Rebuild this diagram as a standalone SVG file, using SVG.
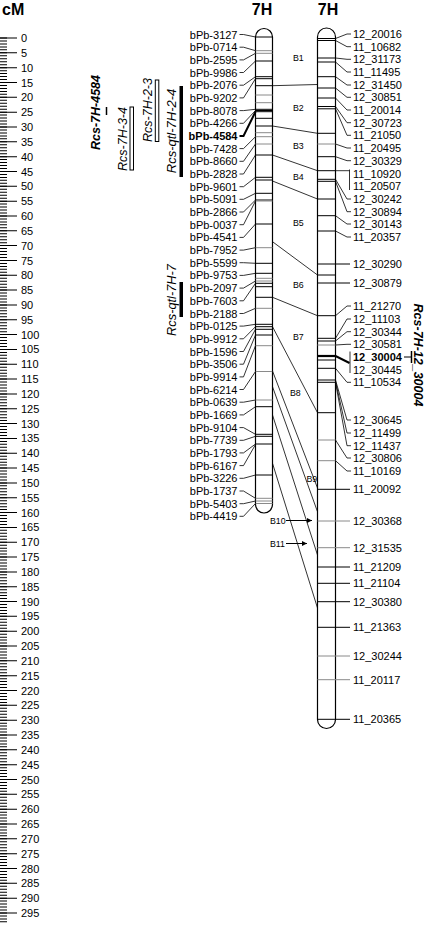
<svg xmlns="http://www.w3.org/2000/svg" width="425" height="926" viewBox="0 0 425 926">
<style>
text{font-family:"Liberation Sans",Arial,sans-serif;fill:#000}
.t{font-size:11px}
.l{text-anchor:end}
.ttl{font-size:16px;font-weight:bold}
.bl{font-size:8.8px}
.q{font-size:12.5px;font-style:italic;text-anchor:middle}
.qb{font-size:12.5px;font-style:italic;font-weight:bold;text-anchor:middle}
.chr{fill:#fff;stroke:#000;stroke-width:1.2}
.mk{stroke:#000;stroke-width:1;fill:none}
.gm{stroke:#8a8a8a;stroke-width:1;fill:none}
.ld{stroke:#000;stroke-width:0.8;fill:none}
.bd{stroke:#000;stroke-width:2;fill:none}
.cn{stroke:#000;stroke-width:0.8;fill:none}
</style>
<defs>
<marker id="ar" viewBox="0 0 6 6" refX="6" refY="3" markerWidth="5" markerHeight="5" orient="auto"><path d="M0,0L6,3L0,6z" fill="#000"/></marker>
</defs>
<rect width="425" height="926" fill="#fff"/>

<g id="ruler">
<text class="ttl" x="2" y="14.5">cM</text>
<line x1="3.5" y1="37.5" x2="3.5" y2="922.5" stroke="#000" stroke-width="7" stroke-dasharray="1 1.966"/>
<line x1="8.5" y1="37.5" x2="8.5" y2="922.5" stroke="#000" stroke-width="17" stroke-dasharray="1 13.83"/>
<g class="t">
<text x="21" y="42">0</text><text x="21" y="56.8">5</text><text x="21" y="71.7">10</text><text x="21" y="86.5">15</text><text x="21" y="101.3">20</text><text x="21" y="116.2">25</text><text x="21" y="131">30</text><text x="21" y="145.8">35</text><text x="21" y="160.6">40</text><text x="21" y="175.5">45</text><text x="21" y="190.3">50</text><text x="21" y="205.1">55</text><text x="21" y="220">60</text><text x="21" y="234.8">65</text><text x="21" y="249.6">70</text><text x="21" y="264.5">75</text><text x="21" y="279.3">80</text><text x="21" y="294.1">85</text><text x="21" y="308.9">90</text><text x="21" y="323.8">95</text><text x="21" y="338.6">100</text><text x="21" y="353.4">105</text><text x="21" y="368.3">110</text><text x="21" y="383.1">115</text><text x="21" y="397.9">120</text><text x="21" y="412.8">125</text><text x="21" y="427.6">130</text><text x="21" y="442.4">135</text><text x="21" y="457.2">140</text><text x="21" y="472.1">145</text><text x="21" y="486.9">150</text><text x="21" y="501.7">155</text><text x="21" y="516.6">160</text><text x="21" y="531.4">165</text><text x="21" y="546.2">170</text><text x="21" y="561.1">175</text><text x="21" y="575.9">180</text><text x="21" y="590.7">185</text><text x="21" y="605.5">190</text><text x="21" y="620.4">195</text><text x="21" y="635.2">200</text><text x="21" y="650">205</text><text x="21" y="664.9">210</text><text x="21" y="679.7">215</text><text x="21" y="694.5">220</text><text x="21" y="709.4">225</text><text x="21" y="724.2">230</text><text x="21" y="739">235</text><text x="21" y="753.8">240</text><text x="21" y="768.7">245</text><text x="21" y="783.5">250</text><text x="21" y="798.3">255</text><text x="21" y="813.2">260</text><text x="21" y="828">265</text><text x="21" y="842.8">270</text><text x="21" y="857.7">275</text><text x="21" y="872.5">280</text><text x="21" y="887.3">285</text><text x="21" y="902.1">290</text><text x="21" y="917">295</text>
</g>
</g>

<g id="qtl-Rcs-7H-4584"><text class="qb" transform="translate(100,112.5) rotate(-90)">Rcs-7H-4584</text><line x1="106.5" y1="107" x2="106.5" y2="115" stroke="#000" stroke-width="1.5"/></g>
<g id="qtl-Rcs-7H-3-4"><text class="q" transform="translate(126.5,139) rotate(-90)">Rcs-7H-3-4</text><rect x="130" y="107" width="3.5" height="63" fill="#fff" stroke="#000" stroke-width="1"/></g>
<g id="qtl-Rcs-7H-2-3"><text class="q" transform="translate(151.5,110) rotate(-90)">Rcs-7H-2-3</text><rect x="155.3" y="80" width="3.5" height="61.5" fill="#fff" stroke="#000" stroke-width="1"/></g>
<g id="qtl-Rcs-qtl-7H-2-4"><text class="q" style="font-size:13px" transform="translate(175.5,131) rotate(-90)">Rcs-qtl-7H-2-4</text><rect x="179.5" y="86" width="3.5" height="91" fill="#000"/></g>
<g id="qtl-Rcs-qtl-7H-7"><text class="q" style="font-size:12.8px" transform="translate(175.5,300) rotate(-90)">Rcs-qtl-7H-7</text><rect x="179.5" y="282" width="3.5" height="35" fill="#000"/></g>
<g id="qtl-Rcs-7H-12_30004"><text class="qb" transform="translate(414,355) rotate(90)">Rcs-7H-12_30004</text><line x1="404" y1="357" x2="411" y2="357" stroke="#000" stroke-width="1"/><line x1="411.5" y1="351" x2="411.5" y2="363" stroke="#000" stroke-width="1.5"/></g>

<g id="chr-left">
<text class="ttl" x="262" y="14.5" text-anchor="middle">7H</text>
<path class="chr" d="M255.5,37A8.5,8.5 0 0 1 272.5,37V504.5A8.5,8.5 0 0 1 255.5,504.5Z"/>
<path class="mk" d="M255.5,37H272.5M255.5,61H272.5M255.5,76.7H272.5M255.5,78.7H272.5M255.5,85.7H272.5M255.5,109.3H272.5M255.5,110.5H272.5M255.5,111.7H272.5M255.5,118.3H272.5M255.5,126H272.5M255.5,155H272.5M255.5,177.3H272.5M255.5,180H272.5M255.5,193.3H272.5M255.5,200H272.5M255.5,224H272.5M255.5,263.3H272.5M255.5,273.3H272.5M255.5,283.3H272.5M255.5,286.7H272.5M255.5,297.3H272.5M255.5,324.3H272.5M255.5,326.7H272.5M255.5,329.3H272.5M255.5,335H272.5M255.5,406.7H272.5M255.5,434.3H272.5M255.5,436.3H272.5M255.5,444H272.5M255.5,475H272.5"/>
<path class="gm" d="M255.5,50.7H272.5M255.5,53.3H272.5M255.5,95H272.5M255.5,102.7H272.5M255.5,132.7H272.5M255.5,136.7H272.5M255.5,144H272.5M255.5,201H272.5M255.5,247.7H272.5M255.5,278.3H272.5M255.5,281H272.5M255.5,308.3H272.5M255.5,345.7H272.5M255.5,371.5H272.5M255.5,400H272.5M255.5,498.3H272.5M255.5,501H272.5M255.5,503.5H272.5"/>
</g>

<g id="chr-right">
<text class="ttl" x="328" y="14.5" text-anchor="middle">7H</text>
<path class="chr" d="M317.5,37A9,9 0 0 1 335.5,37V719.5A9,9 0 0 1 317.5,719.5Z"/>
<path class="mk" d="M317.5,38.5H335.5M317.5,40.5H335.5M317.5,58H335.5M317.5,62H335.5M317.5,76.7H335.5M317.5,88H335.5M317.5,98H335.5M317.5,106.5H335.5M317.5,108.8H335.5M317.5,133.3H335.5M317.5,156.7H335.5M317.5,170.7H335.5M317.5,179.3H335.5M317.5,181.3H335.5M317.5,199H335.5M317.5,215.7H335.5M317.5,231H335.5M317.5,275H335.5M317.5,315.7H335.5M317.5,338.3H335.5M317.5,341H335.5M317.5,360H335.5M317.5,368.3H335.5M317.5,380H335.5M317.5,382.3H335.5M317.5,412.7H335.5"/>
<path class="gm" d="M317.5,144H335.5M317.5,345H335.5M317.5,440H335.5M317.5,460.7H335.5"/>
<line x1="317.5" y1="356" x2="335.5" y2="356" stroke="#000" stroke-width="2.2"/>
</g>

<g id="connectors">
<path class="cn" d="M272.5,85.7L317.5,84.5M272.5,126L317.5,133.3M272.5,155L317.5,170.7M272.5,181L317.5,199M272.5,241.7L317.5,275M272.5,297.3L317.5,315.7M272.5,326.7L317.5,412.7M272.5,371L317.5,488M272.5,386.7L317.5,511.7M272.5,415L317.5,555M272.5,463.3L317.5,608"/>
<line x1="286" y1="520.5" x2="312" y2="520.5" stroke="#000" stroke-width="1" marker-end="url(#ar)"/>
<line x1="286" y1="543.5" x2="307" y2="543.5" stroke="#000" stroke-width="1" marker-end="url(#ar)"/>
</g>

<g id="bins" class="bl">
<text x="293" y="61">B1</text><text x="293" y="110.7">B2</text><text x="293" y="148.7">B3</text><text x="293" y="180.3">B4</text><text x="293" y="226.3">B5</text><text x="293" y="288">B6</text><text x="293" y="340.3">B7</text><text x="290" y="395.7">B8</text><text x="306.5" y="482">B9</text><text x="270" y="523.5">B10</text><text x="270" y="546.5">B11</text>
</g>

<g id="left-markers" class="t l">
<g id="bPb-3127"><text x="237.5" y="38.5">bPb-3127</text><polyline class="ld" points="239.5,34.5 243.5,34.5 255.5,37"/></g>
<g id="bPb-0714"><text x="237.5" y="51.2">bPb-0714</text><polyline class="ld" points="239.5,47.2 243.5,47.2 255.5,50.7"/></g>
<g id="bPb-2595"><text x="237.5" y="63.9">bPb-2595</text><polyline class="ld" points="239.5,59.9 243.5,59.9 255.5,53.3"/></g>
<g id="bPb-9986"><text x="237.5" y="76.5">bPb-9986</text><polyline class="ld" points="239.5,72.5 243.5,72.5 255.5,61"/></g>
<g id="bPb-2076"><text x="237.5" y="89.2">bPb-2076</text><polyline class="ld" points="239.5,85.2 243.5,85.2 255.5,76.7"/></g>
<g id="bPb-9202"><text x="237.5" y="101.9">bPb-9202</text><polyline class="ld" points="239.5,97.9 243.5,97.9 255.5,78.7"/></g>
<g id="bPb-8078"><text x="237.5" y="114.6">bPb-8078</text><polyline class="ld" points="239.5,110.6 243.5,110.6 255.5,109.3"/></g>
<g id="bPb-4266"><text x="237.5" y="127.3">bPb-4266</text><polyline class="ld" points="239.5,123.3 243.5,123.3 255.5,110.5"/></g>
<g id="bPb-4584"><text x="237.5" y="139.9" font-weight="bold">bPb-4584</text><polyline class="bd" points="239.5,135.9 243.5,135.9 255.5,111.7"/></g>
<g id="bPb-7428"><text x="237.5" y="152.6">bPb-7428</text><polyline class="ld" points="239.5,148.6 243.5,148.6 255.5,136.7"/></g>
<g id="bPb-8660"><text x="237.5" y="165.3">bPb-8660</text><polyline class="ld" points="239.5,161.3 243.5,161.3 255.5,144"/></g>
<g id="bPb-2828"><text x="237.5" y="178">bPb-2828</text><polyline class="ld" points="239.5,174 243.5,174 255.5,155"/></g>
<g id="bPb-9601"><text x="237.5" y="190.7">bPb-9601</text><polyline class="ld" points="239.5,186.7 243.5,186.7 255.5,177.3"/></g>
<g id="bPb-5091"><text x="237.5" y="203.3">bPb-5091</text><polyline class="ld" points="239.5,199.3 243.5,199.3 255.5,193.3"/></g>
<g id="bPb-2866"><text x="237.5" y="216">bPb-2866</text><polyline class="ld" points="239.5,212 243.5,212 255.5,200"/></g>
<g id="bPb-0037"><text x="237.5" y="228.7">bPb-0037</text><polyline class="ld" points="239.5,224.7 243.5,224.7 255.5,201"/></g>
<g id="bPb-4541"><text x="237.5" y="241.4">bPb-4541</text><polyline class="ld" points="239.5,237.4 243.5,237.4 255.5,224"/></g>
<g id="bPb-7952"><text x="237.5" y="254.1">bPb-7952</text><polyline class="ld" points="239.5,250.1 243.5,250.1 255.5,247.7"/></g>
<g id="bPb-5599"><text x="237.5" y="266.7">bPb-5599</text><polyline class="ld" points="239.5,262.7 243.5,262.7 255.5,263.3"/></g>
<g id="bPb-9753"><text x="237.5" y="279.4">bPb-9753</text><polyline class="ld" points="239.5,275.4 243.5,275.4 255.5,273.3"/></g>
<g id="bPb-2097"><text x="237.5" y="292.1">bPb-2097</text><polyline class="ld" points="239.5,288.1 243.5,288.1 255.5,281"/></g>
<g id="bPb-7603"><text x="237.5" y="304.8">bPb-7603</text><polyline class="ld" points="239.5,300.8 243.5,300.8 255.5,283.3"/></g>
<g id="bPb-2188"><text x="237.5" y="317.5">bPb-2188</text><polyline class="ld" points="239.5,313.5 243.5,313.5 255.5,308.3"/></g>
<g id="bPb-0125"><text x="237.5" y="330.1">bPb-0125</text><polyline class="ld" points="239.5,326.1 243.5,326.1 255.5,324.3"/></g>
<g id="bPb-9912"><text x="237.5" y="342.8">bPb-9912</text><polyline class="ld" points="239.5,338.8 243.5,338.8 255.5,326.7"/></g>
<g id="bPb-1596"><text x="237.5" y="355.5">bPb-1596</text><polyline class="ld" points="239.5,351.5 243.5,351.5 255.5,329.3"/></g>
<g id="bPb-3506"><text x="237.5" y="368.2">bPb-3506</text><polyline class="ld" points="239.5,364.2 243.5,364.2 255.5,335"/></g>
<g id="bPb-9914"><text x="237.5" y="380.9">bPb-9914</text><polyline class="ld" points="239.5,376.9 243.5,376.9 255.5,345.7"/></g>
<g id="bPb-6214"><text x="237.5" y="393.5">bPb-6214</text><polyline class="ld" points="239.5,389.5 243.5,389.5 255.5,371.5"/></g>
<g id="bPb-0639"><text x="237.5" y="406.2">bPb-0639</text><polyline class="ld" points="239.5,402.2 243.5,402.2 255.5,400"/></g>
<g id="bPb-1669"><text x="237.5" y="418.9">bPb-1669</text><polyline class="ld" points="239.5,414.9 243.5,414.9 255.5,406.7"/></g>
<g id="bPb-9104"><text x="237.5" y="431.6">bPb-9104</text><polyline class="ld" points="239.5,427.6 243.5,427.6 255.5,434.3"/></g>
<g id="bPb-7739"><text x="237.5" y="444.3">bPb-7739</text><polyline class="ld" points="239.5,440.3 243.5,440.3 255.5,436.3"/></g>
<g id="bPb-1793"><text x="237.5" y="456.9">bPb-1793</text><polyline class="ld" points="239.5,452.9 243.5,452.9 255.5,444"/></g>
<g id="bPb-6167"><text x="237.5" y="469.6">bPb-6167</text><polyline class="ld" points="239.5,465.6 243.5,465.6 255.5,444.5"/></g>
<g id="bPb-3226"><text x="237.5" y="482.3">bPb-3226</text><polyline class="ld" points="239.5,478.3 243.5,478.3 255.5,475"/></g>
<g id="bPb-1737"><text x="237.5" y="495">bPb-1737</text><polyline class="ld" points="239.5,491 243.5,491 255.5,498.3"/></g>
<g id="bPb-5403"><text x="237.5" y="507.7">bPb-5403</text><polyline class="ld" points="239.5,503.7 243.5,503.7 255.5,501"/></g>
<g id="bPb-4419"><text x="237.5" y="520.3">bPb-4419</text><polyline class="ld" points="239.5,516.3 243.5,516.3 255.5,503.5"/></g>
</g>

<g id="right-markers" class="t">
<g id="m12_20016"><text x="353" y="38">12_20016</text><polyline class="ld" points="335.5,38.5 347,34 351,34"/></g>
<g id="m11_10682"><text x="353" y="50.7">11_10682</text><polyline class="ld" points="335.5,40.5 347,46.7 351,46.7"/></g>
<g id="m12_31173"><text x="353" y="63.3">12_31173</text><polyline class="ld" points="335.5,58 347,59.3 351,59.3"/></g>
<g id="m11_11495"><text x="353" y="76">11_11495</text><polyline class="ld" points="335.5,62 347,72 351,72"/></g>
<g id="m12_31450"><text x="353" y="89">12_31450</text><polyline class="ld" points="335.5,76.7 347,85 351,85"/></g>
<g id="m12_30851"><text x="353" y="101.3">12_30851</text><polyline class="ld" points="335.5,88 347,97.3 351,97.3"/></g>
<g id="m11_20014"><text x="353" y="114">11_20014</text><polyline class="ld" points="335.5,98 347,110 351,110"/></g>
<g id="m12_30723"><text x="353" y="126.7">12_30723</text><polyline class="ld" points="335.5,106.5 347,122.7 351,122.7"/></g>
<g id="m11_21050"><text x="353" y="139.3">11_21050</text><polyline class="ld" points="335.5,108.8 347,135.3 351,135.3"/></g>
<g id="m11_20495"><text x="353" y="152">11_20495</text><polyline class="ld" points="335.5,144 347,148 351,148"/></g>
<g id="m12_30329"><text x="353" y="164.7">12_30329</text><polyline class="ld" points="335.5,156.7 347,160.7 351,160.7"/></g>
<g id="m11_10920"><text x="353" y="177.7">11_10920</text><polyline class="ld" points="335.5,170.7 349.5,170.7"/><line class="ld" x1="349.5" y1="169.5" x2="349.5" y2="190"/></g>
<g id="m11_20507"><text x="353" y="190.3">11_20507</text></g>
<g id="m12_30242"><text x="353" y="203">12_30242</text><polyline class="ld" points="335.5,179.3 347,199 351,199"/></g>
<g id="m12_30894"><text x="353" y="215.7">12_30894</text><polyline class="ld" points="335.5,181.3 347,211.7 351,211.7"/></g>
<g id="m12_30143"><text x="353" y="228">12_30143</text><polyline class="ld" points="335.5,215.7 347,224 351,224"/></g>
<g id="m11_20357"><text x="353" y="241">11_20357</text><polyline class="ld" points="335.5,231 347,237 351,237"/></g>
<g id="m12_30290"><text x="353" y="268">12_30290</text><line class="mk" x1="317.5" y1="264" x2="350" y2="264"/></g>
<g id="m12_30879"><text x="353" y="287">12_30879</text><line class="mk" x1="317.5" y1="283" x2="350" y2="283"/></g>
<g id="m11_21270"><text x="353" y="310">11_21270</text><polyline class="ld" points="335.5,315.7 347,306 351,306"/></g>
<g id="m12_11103"><text x="353" y="323">12_11103</text><polyline class="ld" points="335.5,338.3 347,319 351,319"/></g>
<g id="m12_30344"><text x="353" y="335.7">12_30344</text><polyline class="ld" points="335.5,341 347,331.7 351,331.7"/></g>
<g id="m12_30581"><text x="353" y="348.3">12_30581</text><polyline class="ld" points="335.5,345 347,344.3 351,344.3"/></g>
<g id="m12_30004"><text x="353" y="361" font-weight="bold">12_30004</text><polyline class="bd" points="335.5,356 349.5,363"/><line class="ld" x1="350" y1="351.5" x2="350" y2="373"/></g>
<g id="m12_30445"><text x="353" y="374">12_30445</text></g>
<g id="m11_10534"><text x="353" y="386.3">11_10534</text><polyline class="ld" points="335.5,368.3 347,382.3 351,382.3"/></g>
<g id="m12_30645"><text x="353" y="424">12_30645</text><polyline class="ld" points="335.5,380 347,420 351,420"/></g>
<g id="m12_11499"><text x="353" y="437">12_11499</text><polyline class="ld" points="335.5,381.2 347,433 351,433"/></g>
<g id="m12_11437"><text x="353" y="449.7">12_11437</text><polyline class="ld" points="335.5,382.3 347,445.7 351,445.7"/></g>
<g id="m12_30806"><text x="353" y="462">12_30806</text><polyline class="ld" points="335.5,440 347,458 351,458"/></g>
<g id="m11_10169"><text x="353" y="475">11_10169</text><polyline class="ld" points="335.5,460.7 347,471 351,471"/></g>
<g id="m11_20092"><text x="353" y="493.3">11_20092</text><line class="mk" x1="317.5" y1="489.3" x2="350" y2="489.3"/></g>
<g id="m12_30368"><text x="353" y="525">12_30368</text><line class="gm" x1="317.5" y1="521" x2="350" y2="521"/></g>
<g id="m12_31535"><text x="353" y="551.7">12_31535</text><line class="gm" x1="317.5" y1="547.7" x2="350" y2="547.7"/></g>
<g id="m11_21209"><text x="353" y="571">11_21209</text><line class="mk" x1="317.5" y1="567" x2="350" y2="567"/></g>
<g id="m11_21104"><text x="353" y="587.3">11_21104</text><line class="mk" x1="317.5" y1="583.3" x2="350" y2="583.3"/></g>
<g id="m12_30380"><text x="353" y="605.7">12_30380</text><line class="mk" x1="317.5" y1="601.7" x2="350" y2="601.7"/></g>
<g id="m11_21363"><text x="353" y="631.3">11_21363</text><line class="mk" x1="317.5" y1="627.3" x2="350" y2="627.3"/></g>
<g id="m12_30244"><text x="353" y="660">12_30244</text><line class="gm" x1="317.5" y1="656" x2="350" y2="656"/></g>
<g id="m11_20117"><text x="353" y="683.7">11_20117</text><line class="gm" x1="317.5" y1="679.7" x2="350" y2="679.7"/></g>
<g id="m11_20365"><text x="353" y="723.3">11_20365</text><line class="mk" x1="317.5" y1="719.3" x2="350" y2="719.3"/></g>
</g>
</svg>
